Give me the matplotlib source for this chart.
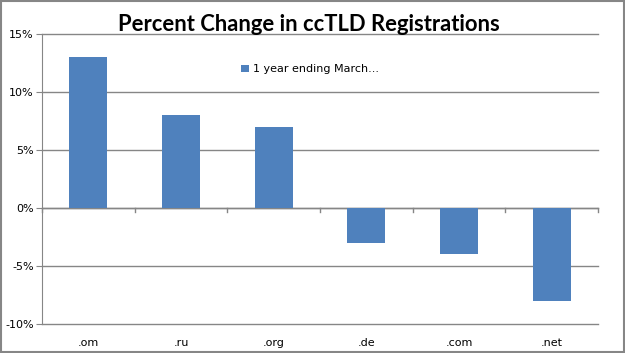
import matplotlib
matplotlib.use("Agg")
import matplotlib.pyplot as plt
from matplotlib.patches import Rectangle
import numpy as np

categories = [".om", ".ru", ".org", ".de", ".com", ".net"]
values = [13, 8, 7, -3, -4, -8]
series_name = "1 year ending March..."
yticks = [-10, -5, 0, 5, 10, 15]

barColor = "#4f81bd"
gridColor = "#868686"

fig = plt.figure(figsize=(6.25, 3.53), dpi=100)
ax = fig.add_axes([0.0672, 0.0822, 0.8898, 0.8215])

x = np.arange(len(categories))
ax.bar(x, values, width=0.41, color=barColor, label=series_name, zorder=3)

ax.set_xlim(-0.5, len(categories) - 0.5)
ax.set_ylim(min(yticks), max(yticks))
ax.set_yticks(yticks)
ax.set_yticklabels([f"{t}%" for t in yticks])
ax.yaxis.grid(True, color=gridColor, linewidth=1)
for gl in ax.get_ygridlines():
    gl.set_clip_on(False)
ax.set_axisbelow(True)

ax.set_xticks(x)
ax.set_xticklabels(categories)
ax.tick_params(axis="x", length=0, pad=10, labelsize=8)
ax.tick_params(axis="y", length=4, color=gridColor, labelsize=8, pad=2)

for side in ["top", "right", "bottom"]:
    ax.spines[side].set_visible(False)
ax.spines["left"].set_color(gridColor)

# category axis at zero with boundary ticks
ax.axhline(0, color=gridColor, linewidth=1, zorder=2)
trans = ax.get_xaxis_transform()
for b in np.arange(len(categories) + 1) - 0.5:
    ax.plot([b, b], [0.4, 0.4 - 0.014], transform=trans, color=gridColor, linewidth=1, clip_on=False)

ax.legend(loc="upper left", bbox_to_anchor=(0.34, 0.93), frameon=False, fontsize=8,
          handlelength=0.7, handleheight=0.7, handletextpad=0.4)

fig.text(0.494, 0.912, "Percent Change in ccTLD Registrations", ha="center", va="baseline",
         fontsize=15.8, fontweight="bold", family="Lato")

fig.patches.append(Rectangle((0.001, 0.002), 0.997, 0.995, transform=fig.transFigure,
                             fill=False, edgecolor=gridColor, linewidth=1.5))

fig.savefig("out.png", dpi=100)
